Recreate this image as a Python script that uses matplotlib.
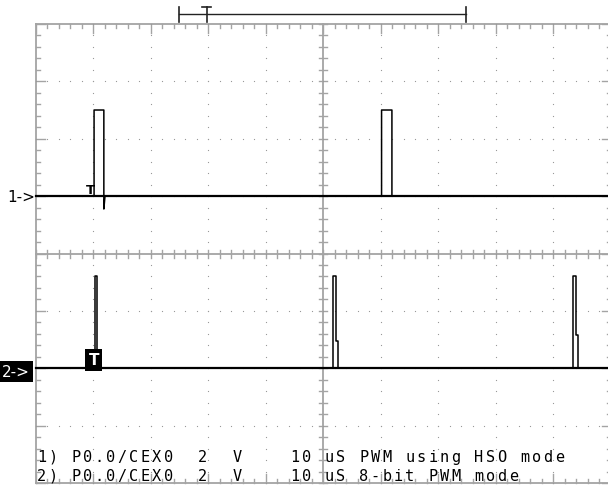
import matplotlib.pyplot as plt

# --- scope settings (time in us, 10 us/div, 10 div across) ---
us_per_div = 10.0
volts_per_div = 2.0
ch1_offset = 1.0     # divisions above centre
ch2_offset = -2.0    # divisions below centre

# channel 1: PWM using HSO mode (volts)
ch1_t = [0.0, 10.1, 10.1, 11.8, 11.8, 12.0, 60.1, 60.1, 61.9, 61.9, 100.0]
ch1_v = [0.0, 0.0, 3.0, 3.0, -0.45, 0.0, 0.0, 3.0, 3.0, 0.0, 0.0]

# channel 2: 8-bit PWM mode
ch2_t = [0.0, 10.25, 10.25, 10.6, 10.6, 51.7, 51.7, 52.1, 52.1, 52.5, 52.5,
         93.4, 93.4, 93.9, 93.9, 94.3, 94.3, 100.0]
ch2_v = [0.0, 0.0, 3.2, 3.2, 0.0, 0.0, 3.2, 3.2, 0.95, 0.95, 0.0,
         0.0, 3.2, 3.2, 1.15, 1.15, 0.0, 0.0]

# acquisition span bar at the top and trigger point
span_start = 24.9
span_end = 74.8
trig_pos = 29.7

row1 = "1) P0.0/CEX0  2  V    10 uS PWM using HSO mode"
row2 = "2) P0.0/CEX0  2  V    10 uS 8-bit PWM mode"

grid_col = '#a4a4a4'

fig = plt.figure(figsize=(6.08, 4.89), dpi=100)
ax = fig.add_axes([0, 0, 1, 1])
ax.set_xlim(-6.26, 99.48)
ax.set_ylim(-4.085, 4.434)
ax.axis('off')

# px helpers for tick lengths
px_x = us_per_div / 57.5
px_y = 1.0 / 57.4

# frame and centre cross
for xs, ys in [([0, 100], [4, 4]), ([0, 100], [-4, -4]), ([0, 0], [-4, 4]),
               ([100, 100], [-4, 4]), ([0, 100], [0, 0]), ([50, 50], [-4, 4])]:
    ax.plot(xs, ys, color=grid_col, lw=1.3)

minor_x = [i * 2.0 for i in range(51)]
minor_y = [-4 + i * 0.2 for i in range(41)]
for x in minor_x:
    major = abs(x / 10 - round(x / 10)) < 1e-6
    ln = (9 if major else 4) * px_y
    ax.plot([x, x], [4, 4 - ln], color=grid_col, lw=1.0)
    ax.plot([x, x], [-4, -4 + ln], color=grid_col, lw=1.0)
    ax.plot([x, x], [-4 * px_y, 4 * px_y], color=grid_col, lw=1.0)
for y in minor_y:
    major = abs(y - round(y)) < 1e-6
    ln = (9 if major else 4) * px_x
    ax.plot([0, ln], [y, y], color=grid_col, lw=1.0)
    ax.plot([100 - ln, 100], [y, y], color=grid_col, lw=1.0)
    ax.plot([50 - 4 * px_x, 50 + 4 * px_x], [y, y], color=grid_col, lw=1.0)

# dotted major grid
for k in [1, 2, 3, 4, 6, 7, 8, 9]:
    ax.plot([k * us_per_div] * len(minor_y), minor_y, ls='none', marker='s',
            ms=0.8, mew=0, color='#999999')
for d in [-3, -2, -1, 1, 2, 3]:
    ax.plot(minor_x, [d] * len(minor_x), ls='none', marker='s', ms=0.8,
            mew=0, color='#999999')

# traces
ch1_y = [v / volts_per_div + ch1_offset for v in ch1_v]
ch2_y = [v / volts_per_div + ch2_offset for v in ch2_v]
ax.plot(ch1_t, ch1_y, color='black', lw=1.1)
ax.plot(ch2_t, ch2_y, color='black', lw=1.1)
ax.plot([0, 100], [ch1_offset, ch1_offset], color='black', lw=1.6)
ax.plot([0, 100], [ch2_offset, ch2_offset], color='black', lw=1.6)

# trigger markers
ax.text(ch1_t[1] + 0.1, ch1_offset, 'T', ha='right', va='bottom',
        fontsize=9.5, fontweight='bold', color='black', family='DejaVu Sans')
ax.text(ch2_t[1] - 0.2, ch2_offset + 0.02, 'T', ha='center', va='bottom',
        fontsize=11, fontweight='bold', color='white', family='DejaVu Sans',
        bbox=dict(boxstyle='square,pad=0.22', fc='black', ec='none'))

# channel labels
ax.text(-5.0, ch1_offset, '1->', ha='left', va='center', fontsize=11,
        color='black', family='DejaVu Sans')
ax.text(-5.9, ch2_offset - 0.05, '2->', ha='left', va='center', fontsize=11,
        color='white', family='DejaVu Sans',
        bbox=dict(boxstyle='square,pad=0.2', fc='black', ec='none'))

# span bar on top
bar_y = 4.164
cap = 0.13
ax.plot([span_start, span_end], [bar_y, bar_y], color='#222222', lw=1.0)
ax.plot([span_start, span_start], [bar_y - cap, bar_y + cap], color='#222222', lw=1.2)
ax.plot([span_end, span_end], [bar_y - cap, bar_y + cap], color='#222222', lw=1.2)
ax.plot([trig_pos, trig_pos], [bar_y - cap, bar_y + cap], color='#222222', lw=1.2)
ax.plot([trig_pos - 0.8, trig_pos + 0.8], [bar_y + cap, bar_y + cap],
        color='#222222', lw=1.2)

# bottom status text, one character per 0.2 div column
for row, y in [(row1, -3.53), (row2, -3.86)]:
    for col, ch in enumerate(row):
        if ch != ' ':
            ax.text((col + 0.5) * 2.0, y, ch, ha='center', va='center',
                    fontsize=11, family='DejaVu Sans Mono', color='black')

fig.savefig('out.png', dpi=100)
